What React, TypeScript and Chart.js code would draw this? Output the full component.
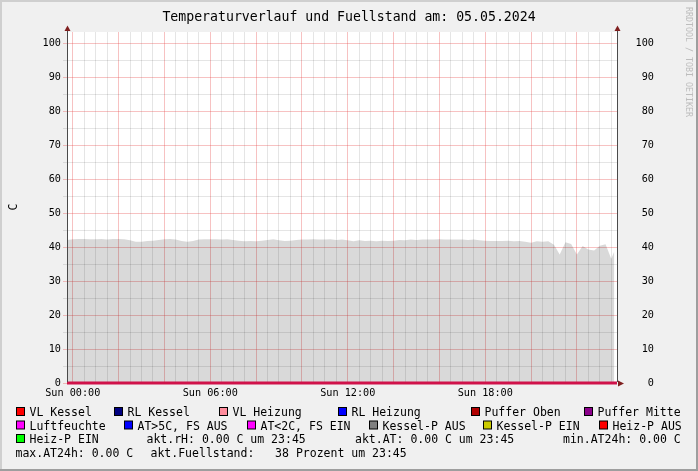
import React, { useEffect, useRef } from 'react';
import { Chart, registerables } from 'chart.js';

Chart.register(...registerables);

// ---------- texts ----------
const TITLE = 'Temperaturverlauf und Fuellstand am: 05.05.2024';
const Y_LABEL = 'C';
const WATERMARK = 'RRDTOOL / TOBI OETIKER';

// ---------- data (minutes since Sun 00:00) ----------
const timesMin = [
  -15, 0, 15, 30, 45, 60, 75, 90, 105, 120,
  135, 150, 165, 180, 195, 210, 225, 240, 255, 270,
  285, 300, 315, 330, 345, 360, 375, 390, 405, 420,
  435, 450, 465, 480, 495, 510, 525, 540, 555, 570,
  585, 600, 615, 630, 645, 660, 675, 690, 705, 720,
  735, 750, 765, 780, 795, 810, 825, 840, 855, 870,
  885, 900, 915, 930, 945, 960, 975, 990, 1005, 1020,
  1035, 1050, 1065, 1080, 1095, 1110, 1125, 1140, 1155, 1170,
  1185, 1200, 1215, 1230, 1245, 1260, 1275, 1290, 1305, 1320,
  1335, 1350, 1365, 1380, 1395, 1410, 1418,
];

const fuellstand = [
  42.1, 42.3, 42.4, 42.4, 42.3, 42.3, 42.4, 42.2, 42.4, 42.4,
  42.3, 42.0, 41.6, 41.6, 41.8, 41.9, 42.1, 42.3, 42.4, 42.2,
  41.8, 41.6, 41.8, 42.2, 42.3, 42.3, 42.3, 42.2, 42.3, 42.1,
  41.9, 41.7, 41.8, 41.7, 41.9, 42.1, 42.3, 42.0, 41.8, 41.9,
  42.1, 42.2, 42.2, 42.3, 42.2, 42.2, 42.3, 42.1, 42.2, 42.0,
  41.7, 42.0, 41.8, 41.9, 41.7, 41.9, 41.8, 41.9, 42.1, 42.0,
  42.2, 42.1, 42.2, 42.2, 42.2, 42.3, 42.2, 42.2, 42.2, 42.2,
  42.1, 42.2, 42.0, 41.9, 41.8, 41.8, 41.8, 41.9, 41.7, 41.8,
  41.6, 41.3, 41.7, 41.6, 41.7, 40.7, 37.8, 41.4, 40.9, 37.8,
  40.3, 39.3, 39.0, 40.4, 40.8, 36.6, 38.8,
];

// temperature lines (all at 0 this day)
const zeroTimes = [-15, 1425];
const zeroValues = [0, 0];

// ---------- axes ----------
const X_MIN = -15;
const X_MAX = 1425;
const Y_MIN = 0;
const Y_MAX = 103.3;

const xGridMinutes = [
  0, 30, 60, 90, 120, 150, 180, 210, 240, 270, 300, 330,
  360, 390, 420, 450, 480, 510, 540, 570, 600, 630, 660, 690,
  720, 750, 780, 810, 840, 870, 900, 930, 960, 990, 1020, 1050,
  1080, 1110, 1140, 1170, 1200, 1230, 1260, 1290, 1320, 1350, 1380, 1410,
];
const xLabelMinutes = [0, 360, 720, 1080];
const xLabels = ['Sun 00:00', 'Sun 06:00', 'Sun 12:00', 'Sun 18:00'];

const yGridValues = [0, 5, 10, 15, 20, 25, 30, 35, 40, 45, 50, 55, 60, 65, 70, 75, 80, 85, 90, 95, 100];
const yLabelValues = [0, 10, 20, 30, 40, 50, 60, 70, 80, 90, 100];

// ---------- legend ----------
const legendLabels = [
  'VL Kessel', 'RL Kessel', 'VL Heizung', 'RL Heizung', 'Puffer Oben', 'Puffer Mitte',
  'Luftfeuchte', 'AT>5C, FS AUS', 'AT<2C, FS EIN', 'Kessel-P AUS', 'Kessel-P EIN', 'Heiz-P AUS',
  'Heiz-P EIN',
];
const legendColors = [
  '#ff0000', '#000080', '#ff8c9c', '#0000ff', '#b00000', '#8b008b',
  '#ff00ff', '#0000ff', '#ff00ff', '#808080', '#cccc00', '#ff0000',
  '#00ff00',
];
const aktRH = 0.0;
const aktAT = 0.0;
const minAT24h = 0.0;
const maxAT24h = 0.0;
const aktFuellstand = 38;
const aktZeit = '23:45';

// ---------- layout (positions/styles only) ----------
const W = 698;
const H = 471;
const MONO = '"DejaVu Sans Mono", monospace';
const AXIS_FONT = 10.2;
const LEGEND_FONT = 11.5;
const TITLE_FONT = 13.2;
const rowBaselines = [416, 429.5, 443, 456.6];
const legendRows = [
  [16, 114, 219, 338, 471, 584],
  [16, 124, 247, 369, 483, 599],
  [16],
];

const MAJOR_GRID = 'rgba(230,70,70,0.33)';
const MINOR_GRID = 'rgba(0,0,0,0.1)';

const decor = {
  id: 'decor',
  beforeDraw(chart: any) {
    const { ctx, chartArea: a } = chart;
    ctx.save();
    ctx.fillStyle = '#f0f0f0';
    ctx.fillRect(0, 0, W, H);
    ctx.fillStyle = '#cfcfcf';
    ctx.fillRect(0, 0, W, 2);
    ctx.fillRect(0, 0, 2, H);
    ctx.fillStyle = '#9e9e9e';
    ctx.fillRect(0, H - 2, W, 2);
    ctx.fillRect(W - 2, 0, 2, H);
    ctx.fillStyle = '#ffffff';
    ctx.fillRect(a.left, a.top, a.right - a.left, a.bottom - a.top);
    ctx.restore();
  },
  afterDatasetsDraw(chart: any) {
    const { ctx, chartArea: a } = chart;
    ctx.save();
    ctx.fillStyle = '#4a4a4a';
    const l = Math.round(a.left);
    const r = Math.round(a.right);
    const b = Math.round(a.bottom);
    ctx.fillRect(l, 29, 1, b - 29 - 1);
    ctx.fillRect(r, 29, 1, b - 29 - 1);
    ctx.fillStyle = '#7f1f1f';
    const up = (x: number) => {
      ctx.beginPath();
      ctx.moveTo(x - 3, 31);
      ctx.lineTo(x + 3, 31);
      ctx.lineTo(x, 25.5);
      ctx.closePath();
      ctx.fill();
    };
    up(l + 0.5);
    up(r + 0.5);
    ctx.beginPath();
    ctx.moveTo(r + 1, b + 0.5 - 3);
    ctx.lineTo(r + 1, b + 0.5 + 3);
    ctx.lineTo(r + 7, b + 0.5);
    ctx.closePath();
    ctx.fill();
    ctx.restore();
  },
  afterDraw(chart: any) {
    const { ctx } = chart;
    ctx.save();
    // title
    ctx.fillStyle = '#000';
    ctx.font = `${TITLE_FONT}px ${MONO}`;
    ctx.textAlign = 'center';
    ctx.textBaseline = 'alphabetic';
    ctx.fillText(TITLE, 349, 20.5);
    // y label
    ctx.save();
    ctx.font = `${LEGEND_FONT}px ${MONO}`;
    ctx.translate(14, 207);
    ctx.rotate(-Math.PI / 2);
    ctx.textAlign = 'center';
    ctx.textBaseline = 'middle';
    ctx.fillText(Y_LABEL, 0, 0);
    ctx.restore();
    // watermark
    ctx.save();
    ctx.font = `8.3px ${MONO}`;
    ctx.fillStyle = '#bdbdbd';
    ctx.translate(688, 7);
    ctx.rotate(Math.PI / 2);
    ctx.textAlign = 'left';
    ctx.textBaseline = 'middle';
    ctx.fillText(WATERMARK, 0, 0);
    ctx.restore();
    // legend
    ctx.font = `${LEGEND_FONT}px ${MONO}`;
    ctx.textAlign = 'left';
    ctx.textBaseline = 'alphabetic';
    let k = 0;
    legendRows.forEach((row, ri) => {
      const base = rowBaselines[ri];
      row.forEach((bx) => {
        if (k >= legendLabels.length) return;
        ctx.fillStyle = '#000';
        ctx.fillRect(bx, base - 9, 9, 9);
        ctx.fillStyle = legendColors[k];
        ctx.fillRect(bx + 1, base - 8, 7, 7);
        ctx.fillStyle = '#000';
        ctx.fillText(legendLabels[k], bx + 13.5, base);
        k++;
      });
    });
    ctx.fillStyle = '#000';
    ctx.fillText(`akt.rH: ${aktRH.toFixed(2)} C um ${aktZeit}`, 146.5, rowBaselines[2]);
    ctx.fillText(`akt.AT: ${aktAT.toFixed(2)} C um ${aktZeit}`, 355, rowBaselines[2]);
    ctx.fillText(`min.AT24h: ${minAT24h.toFixed(2)} C`, 563, rowBaselines[2]);
    ctx.fillText(`max.AT24h: ${maxAT24h.toFixed(2)} C`, 15.5, rowBaselines[3]);
    ctx.fillText(`akt.Fuellstand:   ${aktFuellstand} Prozent um ${aktZeit}`, 150.5, rowBaselines[3]);
    ctx.restore();
  },
};

const yGridColor = (c: any) => {
  const v = c.tick ? c.tick.value : 0;
  return v % 10 === 0 ? MAJOR_GRID : MINOR_GRID;
};
const xGridColor = (c: any) => {
  const v = c.tick ? c.tick.value : 0;
  return v % 120 === 0 ? MAJOR_GRID : MINOR_GRID;
};

export default function App() {
  const ref = useRef<HTMLCanvasElement>(null);
  useEffect(() => {
    if (!ref.current) return;
    const chart = new Chart(ref.current, {
      type: 'line',
      data: {
        datasets: [
          {
            label: 'Temperaturen',
            data: zeroTimes.map((t, i) => ({ x: t, y: zeroValues[i] })),
            borderColor: '#d0124a',
            borderWidth: 3,
            pointRadius: 0,
            fill: false,
            tension: 0,
            clip: false,
            yAxisID: 'y',
          },
          {
            label: 'Fuellstand',
            data: timesMin.map((t, i) => ({ x: t, y: fuellstand[i] })),
            borderColor: 'rgba(0,0,0,0)',
            borderWidth: 0,
            backgroundColor: 'rgba(0,0,0,0.15)',
            pointRadius: 0,
            fill: 'origin',
            tension: 0,
            yAxisID: 'y',
          },
        ],
      },
      options: {
        animation: false,
        responsive: false,
        devicePixelRatio: 1,
        events: [],
        layout: { padding: { left: 0, right: 44, top: 32, bottom: 0 } },
        plugins: {
          legend: { display: false },
          tooltip: { enabled: false },
          title: { display: false },
        },
        scales: {
          x: {
            type: 'linear',
            min: X_MIN,
            max: X_MAX,
            position: 'bottom',
            afterFit: (s: any) => { s.height = 88; },
            afterBuildTicks: (s: any) => { s.ticks = xGridMinutes.map((v) => ({ value: v })); },
            border: { display: false },
            grid: { color: xGridColor, drawTicks: false, lineWidth: 1 },
            ticks: {
              autoSkip: false,
              maxRotation: 0,
              minRotation: 0,
              padding: 4.3,
              color: '#000',
              font: { family: MONO, size: AXIS_FONT },
              callback: (v: any) => {
                const i = xLabelMinutes.indexOf(Number(v));
                return i >= 0 ? xLabels[i] : '';
              },
            },
          },
          y: {
            type: 'linear',
            min: Y_MIN,
            max: Y_MAX,
            position: 'left',
            afterFit: (s: any) => { s.width = 67; },
            afterBuildTicks: (s: any) => { s.ticks = yGridValues.map((v) => ({ value: v })); },
            border: { display: false },
            grid: { color: yGridColor, tickColor: yGridColor, tickLength: 4, lineWidth: 1 },
            ticks: {
              padding: 2,
              color: '#000',
              font: { family: MONO, size: AXIS_FONT },
              callback: (v: any) => (yLabelValues.includes(Number(v)) ? String(v) : ''),
            },
          },
          y2: {
            type: 'linear',
            min: Y_MIN,
            max: Y_MAX,
            position: 'right',
            afterFit: (s: any) => { s.width = 37; },
            afterBuildTicks: (s: any) => { s.ticks = yGridValues.map((v) => ({ value: v })); },
            border: { display: false },
            grid: { display: false, drawOnChartArea: false, drawTicks: false },
            ticks: {
              padding: 0,
              crossAlign: 'far',
              color: '#000',
              font: { family: MONO, size: AXIS_FONT },
              callback: (v: any) => (yLabelValues.includes(Number(v)) ? String(v) : ''),
            },
          },
        },
      },
      plugins: [decor],
    } as any);
    return () => chart.destroy();
  }, []);
  return (
    <div style={{ position: 'fixed', left: 0, top: 0, width: W, height: H }}>
      <canvas ref={ref} width={W} height={H} style={{ display: 'block', width: W, height: H }} />
    </div>
  );
}
